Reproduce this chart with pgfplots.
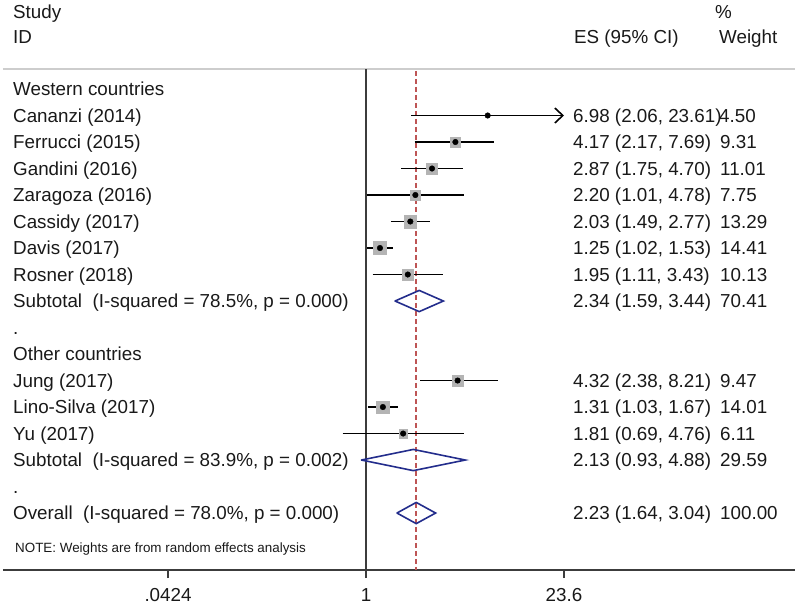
\documentclass[border=0pt]{standalone}
\usepackage{fontspec}
\setmainfont{Liberation Sans}
\usepackage{pgfplots}
\pgfplotsset{compat=1.18}
\usetikzlibrary{arrows.meta}
\definecolor{boxgray}{RGB}{180,180,180}
\definecolor{refred}{RGB}{190,85,85}
\definecolor{dnavy}{RGB}{35,45,140}
\definecolor{linegray}{RGB}{205,205,205}
\definecolor{axisgray}{RGB}{60,60,60}
\definecolor{txt}{RGB}{25,25,25}
\newcommand{\xl}{0.00304}
\newcommand{\fs}{\fontsize{18.8bp}{21bp}\selectfont}
\newcommand{\lbl}[3]{\node[anchor=base west, inner sep=0pt, text=txt, font=\fs, xshift=#1bp, yshift=-6.7bp] at (axis cs:\xl,#2) {#3};}
\begin{document}
\begin{tikzpicture}[font=\fs]
\begin{axis}[
  scale only axis, width=792bp, height=501bp,
  xmode=log, xmin=0.00304, xmax=944,
  ymin=0.245, ymax=19.15, y dir=reverse,
  axis x line*=bottom, axis y line=none,
  xtick={0.0424,1,23.6}, xticklabels={.0424,1,23.6},
  minor xtick={},
  tick align=outside, major tick length=8bp,
  x axis line style={draw=axisgray, line width=1.4bp},
  xtick style={draw=axisgray, line width=1.4bp},
  xticklabel style={font=\fs, text=txt, yshift=-7bp},
  clip=false,
]
% header separator
\addplot[linegray, line width=1.5bp] coordinates {(0.00304,0.245) (944,0.245)};
% null line
\addplot[axisgray, line width=1.5bp] coordinates {(1,0.245) (1,19.15)};
% overall effect line
\addplot[refred, line width=1.5bp, dash pattern=on 5bp off 3bp] coordinates {(2.23,0.32) (2.23,19.15)};
% weight boxes
\addplot[only marks, mark=square*, boxgray, mark size=5.2bp] coordinates {(4.17,3)};
\addplot[only marks, mark=square*, boxgray, mark size=5.6bp] coordinates {(2.87,4)};
\addplot[only marks, mark=square*, boxgray, mark size=4.8bp] coordinates {(2.20,5)};
\addplot[only marks, mark=square*, boxgray, mark size=6.2bp] coordinates {(2.03,6)};
\addplot[only marks, mark=square*, boxgray, mark size=6.4bp] coordinates {(1.25,7)};
\addplot[only marks, mark=square*, boxgray, mark size=5.4bp] coordinates {(1.95,8)};
\addplot[only marks, mark=square*, boxgray, mark size=5.2bp] coordinates {(4.32,12)};
\addplot[only marks, mark=square*, boxgray, mark size=6.3bp] coordinates {(1.31,13)};
\addplot[only marks, mark=square*, boxgray, mark size=4.2bp] coordinates {(1.81,14)};
% confidence intervals
\addplot[black, line width=1.6bp, -{Straight Barb[length=8bp,width=15bp,line width=1.6bp]}] coordinates {(2.06,2) (23.61,2)};
\addplot[black, line width=1.6bp] coordinates {(2.17,3) (7.69,3)};
\addplot[black, line width=1.6bp] coordinates {(1.75,4) (4.70,4)};
\addplot[black, line width=1.6bp] coordinates {(1.01,5) (4.78,5)};
\addplot[black, line width=1.6bp] coordinates {(1.49,6) (2.77,6)};
\addplot[black, line width=1.6bp] coordinates {(1.02,7) (1.53,7)};
\addplot[black, line width=1.6bp] coordinates {(1.11,8) (3.43,8)};
\addplot[black, line width=1.6bp] coordinates {(2.38,12) (8.21,12)};
\addplot[black, line width=1.6bp] coordinates {(1.03,13) (1.67,13)};
\addplot[black, line width=1.6bp] coordinates {(0.69,14) (4.76,14)};
% point estimates
\addplot[only marks, mark=*, mark size=2.8bp, black] coordinates {
  (6.98,2) (4.17,3) (2.87,4) (2.20,5) (2.03,6) (1.25,7) (1.95,8)
  (4.32,12) (1.31,13) (1.81,14)};
% pooled diamonds
\addplot[dnavy, line width=1.6bp, line join=miter, line cap=round] coordinates {(1.59,9) (2.34,8.6) (3.44,9) (2.34,9.4) (1.59,9)};
\addplot[dnavy, line width=1.6bp, line join=miter, line cap=round] coordinates {(0.93,15) (2.13,14.6) (4.88,15) (2.13,15.4) (0.93,15)};
\addplot[dnavy, line width=1.6bp, line join=miter, line cap=round] coordinates {(1.64,17) (2.23,16.6) (3.04,17) (2.23,17.4) (1.64,17)};
% left column
\lbl{10}{-1.91}{Study}
\lbl{10}{-0.96}{ID}
\lbl{10}{1}{Western countries}
\lbl{10}{2}{Cananzi (2014)}
\lbl{10}{3}{Ferrucci (2015)}
\lbl{10}{4}{Gandini (2016)}
\lbl{10}{5}{Zaragoza (2016)}
\lbl{10}{6}{Cassidy (2017)}
\lbl{10}{7}{Davis (2017)}
\lbl{10}{8}{Rosner (2018)}
\lbl{10}{9}{Subtotal\ \ (I-squared = 78.5\%, p = 0.000)}
\lbl{10}{10}{.}
\lbl{10}{11}{Other countries}
\lbl{10}{12}{Jung (2017)}
\lbl{10}{13}{Lino-Silva (2017)}
\lbl{10}{14}{Yu (2017)}
\lbl{10}{15}{Subtotal\ \ (I-squared = 83.9\%, p = 0.002)}
\lbl{10}{16}{.}
\lbl{10}{17}{Overall\ \ (I-squared = 78.0\%, p = 0.000)}
\node[anchor=base west, inner sep=0pt, text=txt, font=\fontsize{13.4bp}{15bp}\selectfont, xshift=12bp, yshift=-4.8bp] at (axis cs:\xl,18.32) {NOTE: Weights are from random effects analysis};
% ES column
\lbl{571}{-0.96}{ES (95\% CI)}
\lbl{570}{2}{6.98 (2.06, 23.61)}
\lbl{570}{3}{4.17 (2.17, 7.69)}
\lbl{570}{4}{2.87 (1.75, 4.70)}
\lbl{570}{5}{2.20 (1.01, 4.78)}
\lbl{570}{6}{2.03 (1.49, 2.77)}
\lbl{570}{7}{1.25 (1.02, 1.53)}
\lbl{570}{8}{1.95 (1.11, 3.43)}
\lbl{570}{9}{2.34 (1.59, 3.44)}
\lbl{570}{12}{4.32 (2.38, 8.21)}
\lbl{570}{13}{1.31 (1.03, 1.67)}
\lbl{570}{14}{1.81 (0.69, 4.76)}
\lbl{570}{15}{2.13 (0.93, 4.88)}
\lbl{570}{17}{2.23 (1.64, 3.04)}
% weight column
\lbl{712}{-1.91}{\%}
\lbl{716}{-0.96}{Weight}
\lbl{716}{2}{4.50}
\lbl{717}{3}{9.31}
\lbl{717}{4}{11.01}
\lbl{717}{5}{7.75}
\lbl{717}{6}{13.29}
\lbl{717}{7}{14.41}
\lbl{717}{8}{10.13}
\lbl{717}{9}{70.41}
\lbl{717}{12}{9.47}
\lbl{717}{13}{14.01}
\lbl{717}{14}{6.11}
\lbl{717}{15}{29.59}
\lbl{717}{17}{100.00}
\end{axis}
\pgfresetboundingbox
\path ([shift={(-3bp,-35bp)}]current axis.south west) rectangle ([shift={(5bp,69bp)}]current axis.north east);
\end{tikzpicture}
\end{document}
